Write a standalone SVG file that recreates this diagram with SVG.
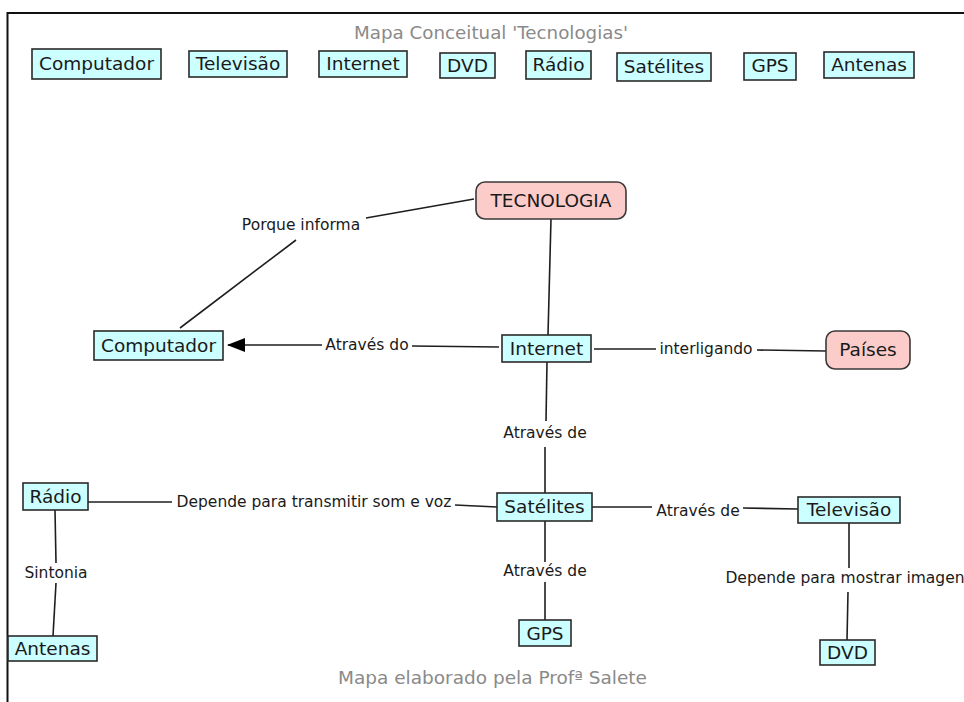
<svg xmlns="http://www.w3.org/2000/svg" width="964" height="702" viewBox="0 0 964 702">
<style>
  .c { fill: #ccffff; stroke: #2a2a2a; stroke-width: 1.6; }
  .p { fill: #fccccb; stroke: #3a3a3a; stroke-width: 1.6; }
  .nt { font-family: "DejaVu Sans", Verdana, sans-serif; font-size: 18.5px; fill: #1a1a1a; text-anchor: middle; }
  .lt { font-family: "DejaVu Sans", Verdana, sans-serif; font-size: 15.5px; fill: #1a1a1a; text-anchor: middle; }
  .gt { font-family: "DejaVu Sans", Verdana, sans-serif; font-size: 17.5px; fill: #8a8a8a; text-anchor: middle; }
  .ln { stroke: #1e1e1e; stroke-width: 1.6; fill: none; }
</style>
<defs>
  <marker id="arrow" viewBox="0 0 18 14" refX="17" refY="7" markerWidth="18" markerHeight="14" markerUnits="userSpaceOnUse" orient="auto">
    <path d="M0,0 L18,7 L0,14 Z" fill="#000"/>
  </marker>
</defs>
<rect x="0" y="0" width="964" height="702" fill="#fff"/>
<path d="M7.5,702 V13 H964" fill="none" stroke="#111" stroke-width="2"/>

<text class="gt" x="491" y="39" textLength="274" lengthAdjust="spacingAndGlyphs">Mapa Conceitual 'Tecnologias'</text>
<text class="gt" x="492.5" y="684" textLength="309" lengthAdjust="spacingAndGlyphs">Mapa elaborado pela Profª Salete</text>

<g id="connectors">
  <line class="ln" x1="474" y1="199" x2="366" y2="218"/>
  <line class="ln" x1="296" y1="240" x2="180" y2="328"/>
  <text class="lt" x="301" y="230">Porque informa</text>

  <line class="ln" x1="551" y1="219" x2="548" y2="335"/>

  <line class="ln" x1="499" y1="347" x2="412" y2="346"/>
  <text class="lt" x="367" y="350">Através do</text>
  <line class="ln" x1="322" y1="345" x2="228" y2="345" marker-end="url(#arrow)"/>

  <line class="ln" x1="594" y1="349" x2="656" y2="349"/>
  <text class="lt" x="706" y="354">interligando</text>
  <line class="ln" x1="757" y1="350" x2="826" y2="351"/>

  <line class="ln" x1="547" y1="362" x2="546" y2="421"/>
  <text class="lt" x="545" y="438">Através de</text>
  <line class="ln" x1="545" y1="447" x2="545" y2="493"/>

  <line class="ln" x1="497" y1="507" x2="455" y2="505"/>
  <text class="lt" x="314" y="507">Depende para transmitir som e voz</text>
  <line class="ln" x1="172" y1="502" x2="88" y2="502"/>

  <line class="ln" x1="592" y1="507" x2="652" y2="507"/>
  <text class="lt" x="698" y="516">Através de</text>
  <line class="ln" x1="743" y1="508" x2="798" y2="509"/>

  <line class="ln" x1="545" y1="521" x2="545" y2="562"/>
  <text class="lt" x="545" y="576">Através de</text>
  <line class="ln" x1="545" y1="582" x2="545" y2="620"/>

  <line class="ln" x1="849" y1="523" x2="849" y2="568"/>
  <text class="lt" x="845" y="583">Depende para mostrar imagen</text>
  <line class="ln" x1="848" y1="592" x2="847" y2="640"/>

  <line class="ln" x1="55" y1="510" x2="56" y2="563"/>
  <text class="lt" x="56" y="578">Sintonia</text>
  <line class="ln" x1="56" y1="583" x2="53" y2="636"/>
</g>

<g id="top-computador"><rect class="c" x="32" y="49" width="129" height="30"/><text class="nt" x="96.5" y="70">Computador</text></g>
<g id="top-televisao"><rect class="c" x="189" y="51" width="98" height="26"/><text class="nt" x="238" y="70">Televisão</text></g>
<g id="top-internet"><rect class="c" x="319" y="51" width="88" height="26"/><text class="nt" x="363" y="70">Internet</text></g>
<g id="top-dvd"><rect class="c" x="440" y="53" width="55" height="25"/><text class="nt" x="467.5" y="72">DVD</text></g>
<g id="top-radio"><rect class="c" x="526" y="51" width="65" height="28"/><text class="nt" x="558.5" y="71">Rádio</text></g>
<g id="top-satelites"><rect class="c" x="617" y="53" width="94" height="28"/><text class="nt" x="664" y="73">Satélites</text></g>
<g id="top-gps"><rect class="c" x="744" y="53" width="52" height="27"/><text class="nt" x="770" y="72">GPS</text></g>
<g id="top-antenas"><rect class="c" x="824" y="52" width="90" height="26"/><text class="nt" x="869" y="71">Antenas</text></g>

<g id="tecnologia"><rect class="p" x="476" y="182" width="150" height="37" rx="9"/><text class="nt" x="551" y="207">TECNOLOGIA</text></g>
<g id="computador"><rect class="c" x="94" y="331" width="129" height="29"/><text class="nt" x="158.5" y="352">Computador</text></g>
<g id="internet"><rect class="c" x="502" y="335" width="89" height="27"/><text class="nt" x="546.5" y="355">Internet</text></g>
<g id="paises"><rect class="p" x="826" y="331" width="84" height="38" rx="9"/><text class="nt" x="868" y="356">Países</text></g>
<g id="satelites"><rect class="c" x="497" y="493" width="95" height="28"/><text class="nt" x="544.5" y="513">Satélites</text></g>
<g id="radio"><rect class="c" x="23" y="483" width="65" height="27"/><text class="nt" x="55.5" y="503">Rádio</text></g>
<g id="televisao"><rect class="c" x="798" y="497" width="102" height="26"/><text class="nt" x="849" y="516">Televisão</text></g>
<g id="gps"><rect class="c" x="519" y="620" width="52" height="26"/><text class="nt" x="545" y="640">GPS</text></g>
<g id="antenas"><rect class="c" x="8" y="636" width="89" height="25"/><text class="nt" x="52.5" y="655">Antenas</text></g>
<g id="dvd"><rect class="c" x="820" y="640" width="55" height="25"/><text class="nt" x="847.5" y="659">DVD</text></g>
</svg>
